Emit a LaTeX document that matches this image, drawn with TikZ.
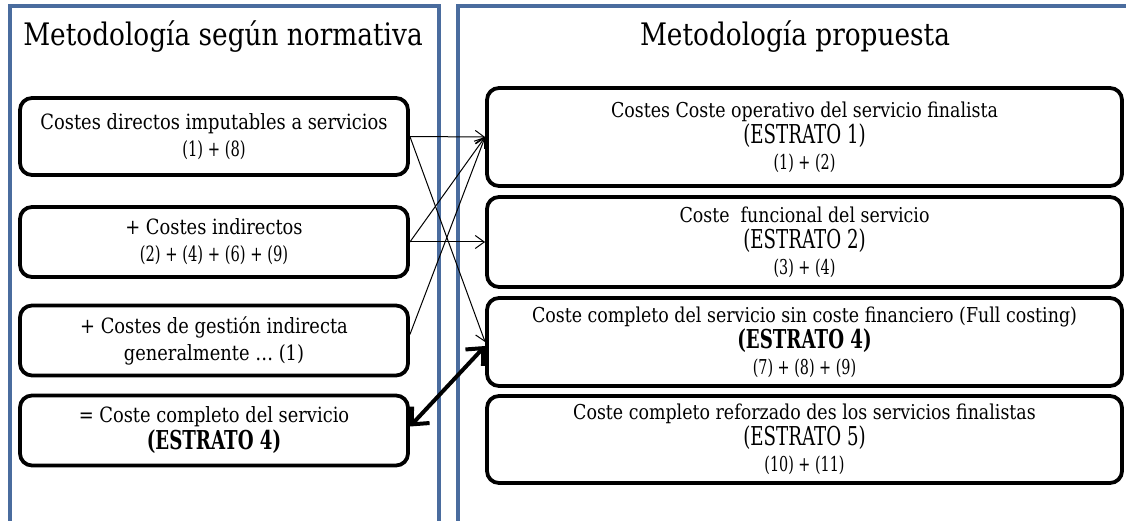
\documentclass[tikz,border=0pt]{standalone}
\usepackage{fontspec}
\setmainfont{DejaVu Serif}[FakeStretch=0.85]
\newfontfamily\capsfont{DejaVu Serif}[FakeStretch=0.7]
\usetikzlibrary{arrows.meta}
\definecolor{panelblue}{RGB}{74,108,158}

\newcommand{\linetxt}{\fontsize{20.5}{26}\selectfont}
\newcommand{\estratotxt}{\capsfont\fontsize{26}{26}\selectfont}
\newcommand{\sumtxt}{\capsfont\fontsize{20.5}{26}\selectfont}

\begin{document}
\begin{tikzpicture}[x=1pt, y=-1pt,
    panel/.style={draw=panelblue, line width=3.5pt},
    title/.style={font=\fontsize{31}{36}\selectfont, inner sep=0pt},
    lbox/.style={draw, line width=3.8pt, rounded corners=12pt, minimum width=388pt, minimum height=70pt, align=center, font=\fontsize{21}{27}\selectfont},
    rbox/.style={draw, line width=3.8pt, rounded corners=12pt, minimum width=635pt, align=center, font=\fontsize{20.5}{26}\selectfont},
    arr/.style={-{Straight Barb[length=9pt,width=13pt]}, line width=1pt},
    dblarr/.style={{Straight Barb[length=13pt,width=24pt]}-{Straight Barb[length=13pt,width=24pt]}, line width=4pt}
]
\useasboundingbox (0,0) rectangle (1126,521);

% the two panels
\draw[panel] (10,525) -- (10,6) -- (439,6) -- (439,525);
\draw[panel] (458,525) -- (458,6) -- (1130,6);

\node[title] (tnorm) at (223,37) {Metodología según normativa};
\node[title] (tprop) at (795,37) {Metodología propuesta};

% left column
\node[lbox, minimum height=77pt] (l1) at (214,136.5) {Costes directos imputables a servicios\\{\capsfont\fontsize{21}{27}\selectfont (1) + (8)}};
\node[lbox] (l2) at (214,242) {+ Costes indirectos\\{\capsfont\fontsize{21}{27}\selectfont (2) + (4) + (6) + (9)}};
\node[lbox] (l3) at (214,340.5) {+ Costes de gestión indirecta\\generalmente … (1)};
\node[lbox] (l4) at (214,430.5) {= Coste completo del servicio\\{\estratotxt\bfseries (ESTRATO 4)}};

% right column
\node[rbox, minimum height=98pt] (r1) at (804.5,137) {\linetxt Costes Coste operativo del servicio finalista\\\estratotxt (ESTRATO 1)\\\sumtxt (1) + (2)};
\node[rbox, minimum height=90pt] (r2) at (804.5,242) {\linetxt Coste \ funcional del servicio\\\estratotxt (ESTRATO 2)\\\sumtxt (3) + (4)};
\node[rbox, minimum height=88pt] (r3) at (804.5,342) {\linetxt Coste completo del servicio sin coste financiero (Full costing)\\\estratotxt\bfseries (ESTRATO 4)\\\sumtxt (7) + (8) + (9)};
\node[rbox, minimum height=87pt] (r4) at (804.5,439.5) {\linetxt Coste completo reforzado des los servicios finalistas\\\estratotxt (ESTRATO 5)\\\sumtxt (10) + (11)};

% connections
\draw[arr] (l1.east) -- (r1.west);
\draw[arr] (l1.east) -- (r3.west);
\draw[arr] (l2.east) -- (r1.west);
\draw[arr] (l2.east) -- (r2.west);
\draw[arr] ([yshift=6pt]l3.east) -- (r1.west);
\draw[dblarr] ([yshift=4pt]l4.east) -- ([yshift=-4pt]r3.west);

\end{tikzpicture}
\end{document}
